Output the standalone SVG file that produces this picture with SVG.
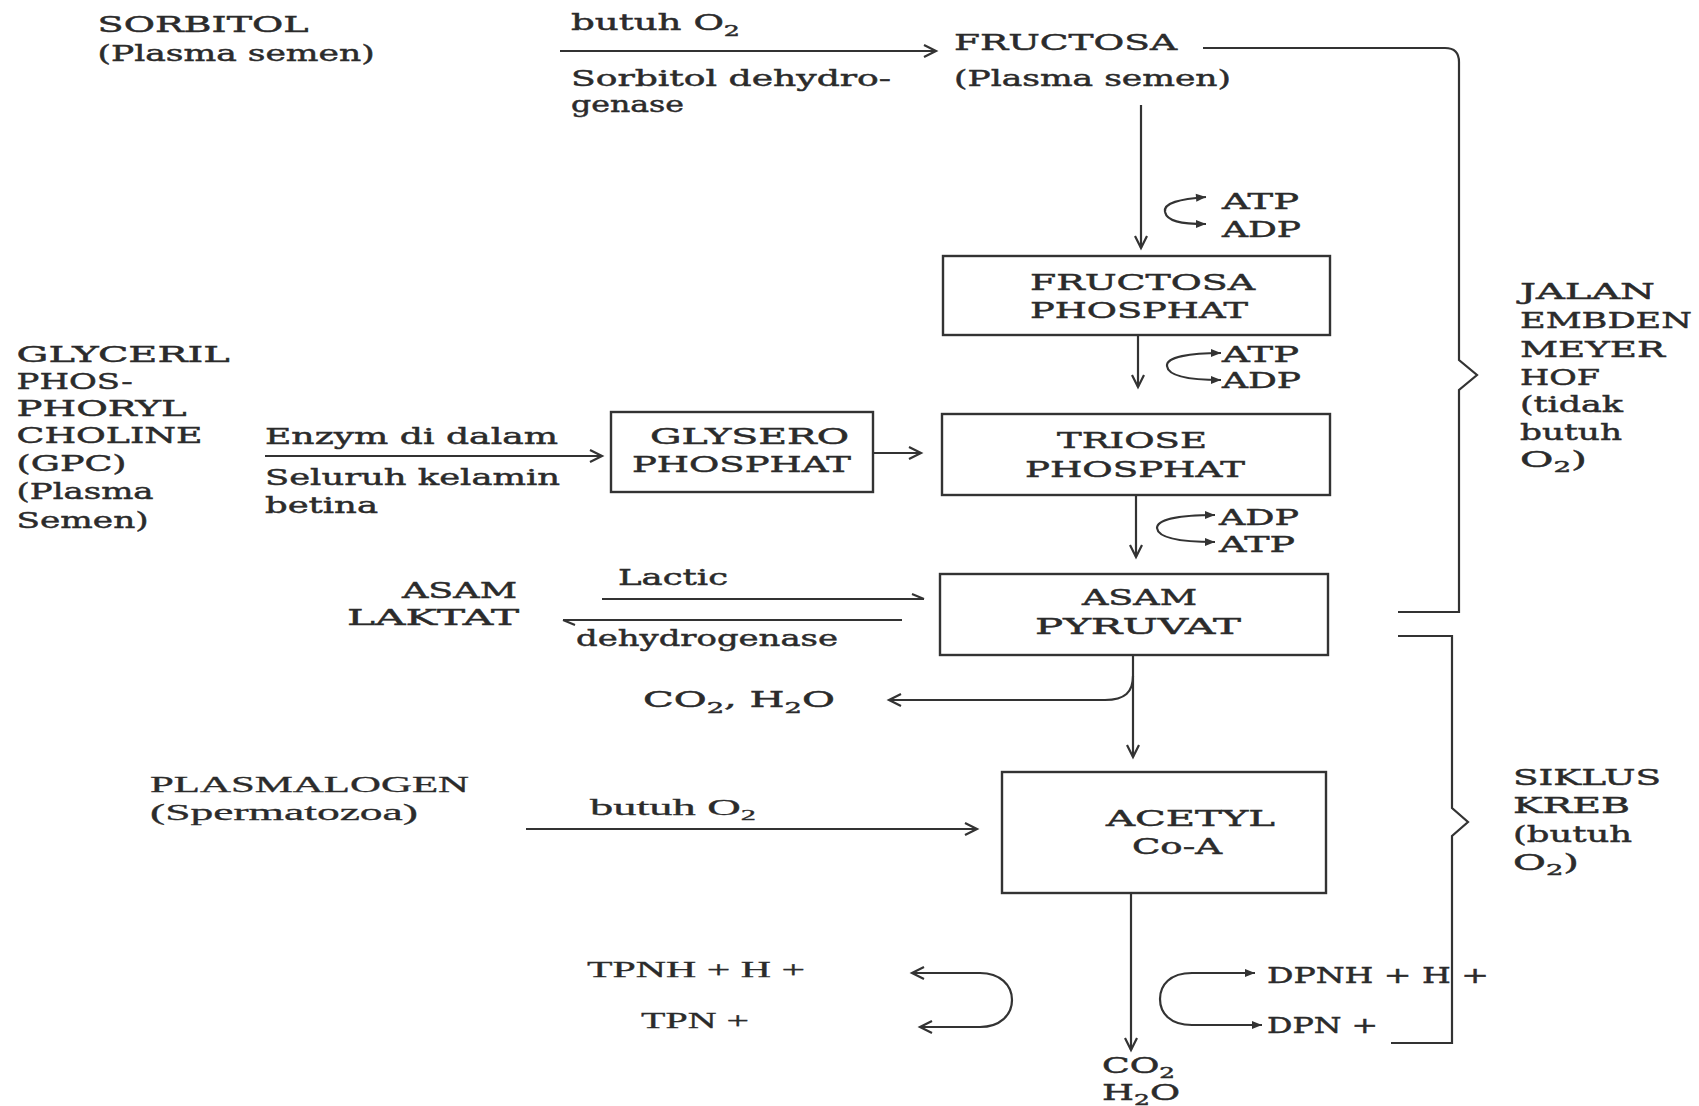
<svg xmlns="http://www.w3.org/2000/svg" width="1699" height="1106" viewBox="0 0 1699 1106">
<style>
.t{font-family:"DejaVu Serif",serif;font-size:22px;fill:#2b2b2b;stroke:#2b2b2b;stroke-width:0.45}
.r{font-family:"Liberation Serif",serif;font-size:23px;fill:#2b2b2b;stroke:#2b2b2b;stroke-width:0.3}
.sub{font-size:15px}
.ln{fill:none;stroke:#333;stroke-width:2.2}
.box{fill:none;stroke:#333;stroke-width:2.4}
</style>
<defs>
<marker id="v" viewBox="0 0 14 14" refX="13" refY="7" markerWidth="14" markerHeight="14" markerUnits="userSpaceOnUse" orient="auto" overflow="visible"><path d="M1,1 L13,7 L1,13" fill="none" stroke="#333" stroke-width="2.2"/></marker>
<marker id="f" viewBox="0 0 10 8" refX="10" refY="4" markerWidth="10" markerHeight="8" markerUnits="userSpaceOnUse" orient="auto" overflow="visible"><path d="M0,0 L10,4 L0,8 Z" fill="#333"/></marker>
<marker id="h" viewBox="0 0 12 6" refX="12" refY="6" markerWidth="12" markerHeight="6" markerUnits="userSpaceOnUse" orient="auto" overflow="visible"><path d="M0,1 L12,6" fill="none" stroke="#333" stroke-width="2"/></marker>
</defs>
<rect width="1699" height="1106" fill="#fff"/>

<g id="connectors">
<path class="ln" d="M560 51 L936 51" marker-end="url(#v)"/>
<path class="ln" d="M1141 105 L1141 248" marker-end="url(#v)"/>
<path class="ln" d="M1165 212 C1163 203 1180 199 1206 197" marker-end="url(#f)"/>
<path class="ln" d="M1165 212 C1167 221 1180 224 1206 224" marker-end="url(#f)"/>
<path class="ln" d="M1138 335 L1138 387" marker-end="url(#v)"/>
<path class="ln" d="M1167 366 C1166 357 1190 353 1221 353" marker-end="url(#f)"/>
<path class="ln" d="M1167 366 C1168 376 1190 380 1221 380" marker-end="url(#f)"/>
<path class="ln" d="M1136 495 L1136 557" marker-end="url(#v)"/>
<path class="ln" d="M1157 528 C1157 519 1180 515 1215 515" marker-end="url(#f)"/>
<path class="ln" d="M1157 528 C1158 538 1180 542 1215 542" marker-end="url(#f)"/>
<path class="ln" d="M265 456 L602 456" marker-end="url(#v)"/>
<path class="ln" d="M873 453 L921 453" marker-end="url(#v)"/>
<path class="ln" d="M602 599 L924 599" marker-end="url(#h)"/>
<path class="ln" d="M902 620 L563 620" marker-end="url(#h)"/>
<path class="ln" d="M1133 655 L1133 757" marker-end="url(#v)"/>
<path class="ln" d="M1133 676 C1133 692 1125 700 1105 700 L889 700" marker-end="url(#v)"/>
<path class="ln" d="M526 829 L977 829" marker-end="url(#v)"/>
<path class="ln" d="M1131 893 L1131 1050" marker-end="url(#v)"/>
<path class="ln" d="M1160 999 C1160 985 1170 973 1192 973 L1255 973" marker-end="url(#f)"/>
<path class="ln" d="M1160 999 C1160 1013 1170 1025 1192 1025 L1262 1025" marker-end="url(#f)"/>
<path class="ln" d="M1012 1000 C1012 985 1000 973 980 973 L912 973" marker-end="url(#v)"/>
<path class="ln" d="M1012 1000 C1012 1015 1000 1027 980 1027 L920 1027" marker-end="url(#v)"/>
<path class="ln" d="M1203 48 L1445 48 Q1459 48 1459 62 L1459 360 L1477 375 L1459 390 L1459 612 L1398 612"/>
<path class="ln" d="M1398 636 L1452 636 L1452 808 L1468 822 L1452 836 L1452 1043 L1391 1043"/>
</g>

<g id="sorbitol">
<text class="t" x="97.6" y="32" textLength="211" lengthAdjust="spacingAndGlyphs">SORBITOL</text>
<text class="t" x="97.6" y="61" textLength="277" lengthAdjust="spacingAndGlyphs">(Plasma semen)</text>
</g>
<g id="label-sorbitol-dehydrogenase">
<text class="t" x="571" y="30" textLength="169" lengthAdjust="spacingAndGlyphs">butuh O<tspan class="sub" dy="6">2</tspan></text>
<text class="t" x="571" y="86" textLength="320" lengthAdjust="spacingAndGlyphs">Sorbitol dehydro-</text>
<text class="t" x="571" y="112" textLength="113" lengthAdjust="spacingAndGlyphs">genase</text>
</g>
<g id="fructosa">
<text class="t" x="954" y="50" textLength="223" lengthAdjust="spacingAndGlyphs">FRUCTOSA</text>
<text class="t" x="954" y="86" textLength="277" lengthAdjust="spacingAndGlyphs">(Plasma semen)</text>
</g>
<g id="atp-adp-1">
<text class="t" x="1222" y="209" textLength="77" lengthAdjust="spacingAndGlyphs">ATP</text>
<text class="t" x="1222" y="237" textLength="79" lengthAdjust="spacingAndGlyphs">ADP</text>
</g>
<g id="fructosa-phosphat">
<rect class="box" x="943" y="256" width="387" height="79"/>
<text class="t" x="1030" y="290" textLength="225" lengthAdjust="spacingAndGlyphs">FRUCTOSA</text>
<text class="t" x="1030" y="318" textLength="218" lengthAdjust="spacingAndGlyphs">PHOSPHAT</text>
</g>
<g id="atp-adp-2">
<text class="t" x="1222" y="362" textLength="77" lengthAdjust="spacingAndGlyphs">ATP</text>
<text class="t" x="1222" y="388" textLength="79" lengthAdjust="spacingAndGlyphs">ADP</text>
</g>
<g id="triose-phosphat">
<rect class="box" x="942" y="414" width="388" height="81"/>
<text class="t" x="1057" y="448" textLength="150" lengthAdjust="spacingAndGlyphs">TRIOSE</text>
<text class="t" x="1025" y="477" textLength="220" lengthAdjust="spacingAndGlyphs">PHOSPHAT</text>
</g>
<g id="adp-atp-3">
<text class="t" x="1219" y="525" textLength="80" lengthAdjust="spacingAndGlyphs">ADP</text>
<text class="t" x="1219" y="552" textLength="76" lengthAdjust="spacingAndGlyphs">ATP</text>
</g>
<g id="gpc">
<text class="t" x="16.6" y="362" textLength="213" lengthAdjust="spacingAndGlyphs">GLYCERIL</text>
<text class="t" x="16.6" y="389" textLength="116" lengthAdjust="spacingAndGlyphs">PHOS-</text>
<text class="t" x="16.6" y="416" textLength="170" lengthAdjust="spacingAndGlyphs">PHORYL</text>
<text class="t" x="16.6" y="443" textLength="186" lengthAdjust="spacingAndGlyphs">CHOLINE</text>
<text class="t" x="16.6" y="471" textLength="110" lengthAdjust="spacingAndGlyphs">(GPC)</text>
<text class="t" x="16.6" y="499" textLength="137" lengthAdjust="spacingAndGlyphs">(Plasma</text>
<text class="t" x="16.6" y="528" textLength="132" lengthAdjust="spacingAndGlyphs">Semen)</text>
</g>
<g id="label-enzym">
<text class="t" x="265" y="444" textLength="293" lengthAdjust="spacingAndGlyphs">Enzym di dalam</text>
<text class="t" x="265" y="485" textLength="295" lengthAdjust="spacingAndGlyphs">Seluruh kelamin</text>
<text class="t" x="265" y="513" textLength="113" lengthAdjust="spacingAndGlyphs">betina</text>
</g>
<g id="glysero-phosphat">
<rect class="box" x="611" y="412" width="262" height="80"/>
<text class="t" x="650" y="444" textLength="199" lengthAdjust="spacingAndGlyphs">GLYSERO</text>
<text class="t" x="632" y="472" textLength="219" lengthAdjust="spacingAndGlyphs">PHOSPHAT</text>
</g>
<g id="asam-laktat">
<text class="t" x="402" y="598" textLength="115" lengthAdjust="spacingAndGlyphs">ASAM</text>
<text class="t" x="347" y="625" textLength="172" lengthAdjust="spacingAndGlyphs">LAKTAT</text>
</g>
<g id="label-lactic-dehydrogenase">
<text class="t" x="618" y="585" textLength="110" lengthAdjust="spacingAndGlyphs">Lactic</text>
<text class="t" x="576" y="646" textLength="262" lengthAdjust="spacingAndGlyphs">dehydrogenase</text>
</g>
<g id="asam-pyruvat">
<rect class="box" x="940" y="574" width="388" height="81"/>
<text class="t" x="1082" y="605" textLength="115" lengthAdjust="spacingAndGlyphs">ASAM</text>
<text class="t" x="1035" y="634" textLength="206" lengthAdjust="spacingAndGlyphs">PYRUVAT</text>
</g>
<g id="co2-h2o">
<text class="t" x="643" y="707" textLength="192" lengthAdjust="spacingAndGlyphs">CO<tspan class="sub" dy="6">2</tspan><tspan dy="-6">, H</tspan><tspan class="sub" dy="6">2</tspan><tspan dy="-6">O</tspan></text>
</g>
<g id="plasmalogen">
<text class="r" x="150" y="792" textLength="319" lengthAdjust="spacingAndGlyphs">PLASMALOGEN</text>
<text class="r" x="150" y="820" textLength="268" lengthAdjust="spacingAndGlyphs">(Spermatozoa)</text>
</g>
<g id="label-plasmalogen">
<text class="r" x="590" y="815" textLength="166" lengthAdjust="spacingAndGlyphs">butuh O<tspan class="sub" dy="5">2</tspan></text>
</g>
<g id="acetyl-coa">
<rect class="box" x="1002" y="772" width="324" height="121"/>
<text class="t" x="1106" y="826" textLength="169" lengthAdjust="spacingAndGlyphs">ACETYL</text>
<text class="t" x="1132" y="854" textLength="90" lengthAdjust="spacingAndGlyphs">Co-A</text>
</g>
<g id="tpn">
<text class="r" x="587" y="977" textLength="218" lengthAdjust="spacingAndGlyphs">TPNH + H +</text>
<text class="r" x="641" y="1028" textLength="108" lengthAdjust="spacingAndGlyphs">TPN +</text>
</g>
<g id="dpn">
<text class="t" x="1267" y="983" textLength="222" lengthAdjust="spacingAndGlyphs">DPNH + H +</text>
<text class="t" x="1267" y="1033" textLength="111" lengthAdjust="spacingAndGlyphs">DPN +</text>
</g>
<g id="co2-h2o-final">
<text class="t" x="1102" y="1073" textLength="73" lengthAdjust="spacingAndGlyphs">CO<tspan class="sub" dy="5">2</tspan></text>
<text class="t" x="1102" y="1100" textLength="78" lengthAdjust="spacingAndGlyphs">H<tspan class="sub" dy="5">2</tspan><tspan dy="-5">O</tspan></text>
</g>
<g id="embden-meyerhof">
<text class="t" x="1520" y="299" textLength="135" lengthAdjust="spacingAndGlyphs">JALAN</text>
<text class="t" x="1520" y="328" textLength="172" lengthAdjust="spacingAndGlyphs">EMBDEN</text>
<text class="t" x="1520" y="357" textLength="145" lengthAdjust="spacingAndGlyphs">MEYER</text>
<text class="t" x="1520" y="385" textLength="80" lengthAdjust="spacingAndGlyphs">HOF</text>
<text class="t" x="1520" y="412" textLength="103" lengthAdjust="spacingAndGlyphs">(tidak</text>
<text class="t" x="1520" y="440" textLength="102" lengthAdjust="spacingAndGlyphs">butuh</text>
<text class="t" x="1520" y="467" textLength="67" lengthAdjust="spacingAndGlyphs">O<tspan class="sub" dy="5">2</tspan><tspan dy="-5">)</tspan></text>
</g>
<g id="siklus-kreb">
<text class="t" x="1513" y="785" textLength="148" lengthAdjust="spacingAndGlyphs">SIKLUS</text>
<text class="t" x="1513" y="813" textLength="117" lengthAdjust="spacingAndGlyphs">KREB</text>
<text class="t" x="1513" y="842" textLength="119" lengthAdjust="spacingAndGlyphs">(butuh</text>
<text class="t" x="1513" y="870" textLength="66" lengthAdjust="spacingAndGlyphs">O<tspan class="sub" dy="5">2</tspan><tspan dy="-5">)</tspan></text>
</g>
</svg>
